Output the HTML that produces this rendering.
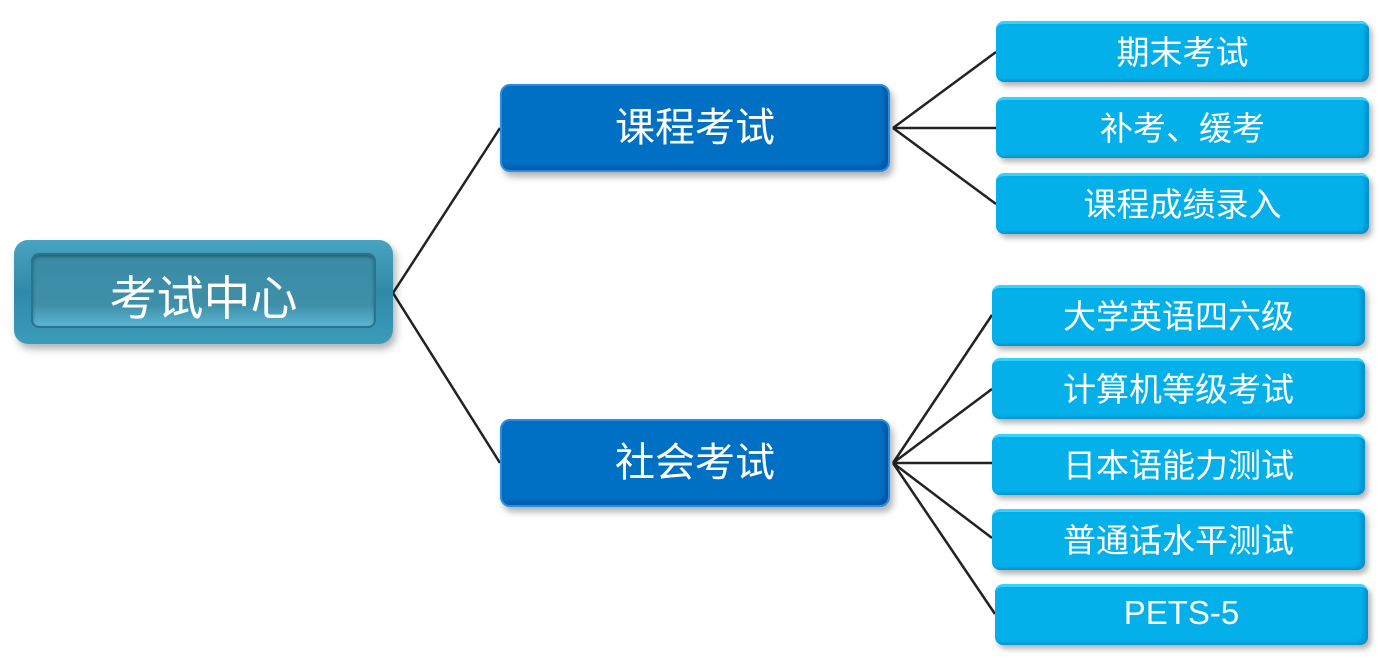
<!DOCTYPE html>
<html><head><meta charset="utf-8"><style>
body{margin:0;width:1392px;height:658px;background:#fff;position:relative;overflow:hidden;font-family:"Liberation Sans","Noto Sans CJK SC",sans-serif;}
.n{position:absolute;box-sizing:border-box;color:#fff;display:flex;align-items:center;justify-content:center;}
.root{left:14px;top:240px;width:379px;height:104px;border-radius:14px;background:linear-gradient(#4aa3c0,#2f8aa8 50%,#3b9cba);box-shadow:3px 5px 8px rgba(0,0,0,.3);font-size:47px;}
.root .in{position:absolute;left:17px;top:13px;right:17px;bottom:16px;border-radius:8px;background:linear-gradient(#3a8ba6,#3f8fa9 70%,#5bb5d2);border:2px solid #2a7490;box-shadow:inset 0 2px 3px rgba(0,0,0,.3);}
.root span{position:relative;top:2px}
.mid{width:390px;height:88px;border-radius:10px;background:#0070c4;border:2px solid #2a8ee0;box-shadow:3px 5px 7px rgba(0,0,0,.3),inset -4px -3px 4px rgba(0,60,140,.5);font-size:40px;}
.mid span{position:relative;top:-4px}
.leaf{width:373px;height:61px;border-radius:8px;background:#04b0ea;border-top:3px solid #30d4ff;box-shadow:3px 4px 6px rgba(0,0,0,.3),inset -4px -2px 3px rgba(0,120,180,.5);font-size:33px;}
.leaf span{position:relative;top:-3px}
</style></head><body>
<svg width="1392" height="658" style="position:absolute;left:0;top:0">
<g stroke="#222" stroke-width="2.5" fill="none">
<path d="M393 293L500 128M393 293L500 463"/>
<path d="M893 128L996 52M893 128L996 128M893 128L996 204"/>
<path d="M893 463L992 315M893 463L992 389M893 463L992 463M893 463L992 538M893 463L995 614"/>
</g></svg>
<div class="n root"><div class="in"></div><span>考试中心</span></div>
<div class="n mid" style="left:500px;top:84px"><span>课程考试</span></div>
<div class="n mid" style="left:500px;top:419px"><span>社会考试</span></div>
<div class="n leaf" style="left:996px;top:21px"><span>期末考试</span></div>
<div class="n leaf" style="left:996px;top:97px"><span>补考、缓考</span></div>
<div class="n leaf" style="left:996px;top:173px"><span>课程成绩录入</span></div>
<div class="n leaf" style="left:992px;top:285px"><span>大学英语四六级</span></div>
<div class="n leaf" style="left:992px;top:358px"><span>计算机等级考试</span></div>
<div class="n leaf" style="left:992px;top:434px"><span>日本语能力测试</span></div>
<div class="n leaf" style="left:992px;top:509px"><span>普通话水平测试</span></div>
<div class="n leaf" style="left:995px;top:584px"><span>PETS-5</span></div>
</body></html>
